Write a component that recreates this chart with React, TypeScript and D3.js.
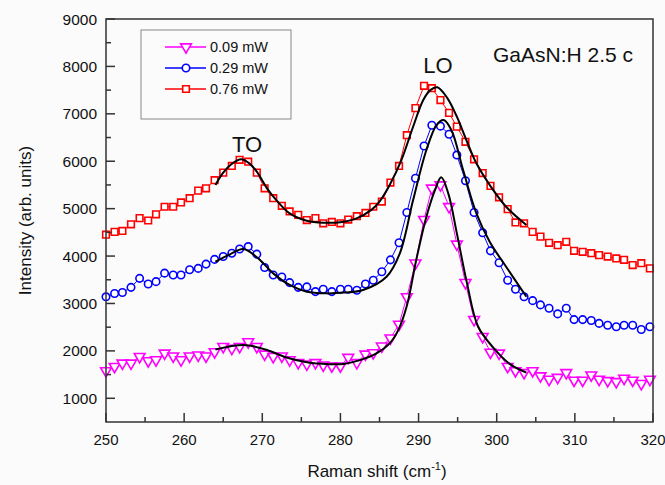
import React from 'react';
import * as d3 from 'd3';

// Raman shift positions (cm-1), shared by the three spectra
const shifts = [
  250.0, 251.1, 252.1, 253.2, 254.3, 255.4, 256.4, 257.5, 258.6, 259.6,
  260.7, 261.8, 262.8, 263.9, 265.0, 266.1, 267.1, 268.2, 269.3, 270.3,
  271.4, 272.5, 273.5, 274.6, 275.7, 276.8, 277.8, 278.9, 280.0, 281.0,
  282.1, 283.2, 284.2, 285.3, 286.4, 287.5, 288.5, 289.6, 290.7, 291.7,
  292.8, 293.9, 294.9, 296.0, 297.1, 298.2, 299.2, 300.3, 301.4, 302.4,
  303.5, 304.6, 305.6, 306.7, 307.8, 308.9, 309.9, 311.0, 312.1, 313.1,
  314.2, 315.3, 316.3, 317.4, 318.5, 319.6,
];

const power009 = [
  1580, 1670, 1740, 1740, 1880, 1790, 1810, 1950, 1890, 1810,
  1890, 1910, 1890, 1980, 2090, 2050, 2090, 2190, 2090, 1930,
  1880, 1890, 1810, 1750, 1720, 1750, 1700, 1680, 1680, 1860,
  1750, 1930, 1960, 2100, 2270, 2560, 3140, 3850, 4770, 5430,
  5500, 5040, 4250, 3440, 2660, 2300, 1970, 1950, 1670, 1580,
  1540, 1580, 1470, 1400, 1440, 1540, 1380, 1380, 1490, 1400,
  1370, 1350, 1420, 1380, 1310, 1400,
];

const power029 = [
  3140, 3210, 3230, 3340, 3530, 3410, 3460, 3640, 3600, 3600,
  3710, 3740, 3830, 3930, 3990, 4060, 4150, 4200, 4040, 3760,
  3600, 3560, 3440, 3340, 3350, 3250, 3300, 3250, 3300, 3300,
  3280, 3410, 3490, 3670, 3920, 4280, 4920, 5640, 6320, 6760,
  6740, 6570, 6130, 5590, 4920, 4490, 4110, 3860, 3490, 3300,
  3140, 3060, 2970, 2900, 2780, 2900, 2660, 2660, 2640, 2580,
  2540, 2510, 2540, 2540, 2450, 2510,
];

const power076 = [
  4450, 4510, 4530, 4670, 4800, 4750, 4880, 5040, 5040, 5130,
  5220, 5380, 5430, 5600, 5760, 5900, 6030, 5990, 5760, 5430,
  5220, 5060, 4940, 4870, 4760, 4800, 4690, 4720, 4690, 4770,
  4840, 4910, 5040, 5150, 5550, 5900, 6550, 7120, 7590, 7540,
  7290, 7020, 6730, 6410, 6040, 5750, 5480, 5240, 4990, 4710,
  4690, 4510, 4410, 4280, 4230, 4300, 4110, 4090, 4060, 4020,
  3990, 3950, 3920, 3810, 3850, 3740,
];

// fitted curves
const fit009: [number, number][] = [
  [264, 2030], [266, 2100], [268, 2120], [270.6, 2020], [273.1, 1860],
  [275.7, 1760], [278.5, 1720], [280.4, 1725], [282.5, 1806], [284.6, 1947],
  [286.3, 2158], [287.4, 2438], [288.5, 2950], [289.7, 3916], [291, 4830],
  [292.1, 5390], [292.9, 5660], [293.8, 5323], [294.9, 4478], [296.2, 3424],
  [297.6, 2520], [299.5, 2080], [301.7, 1720], [303.8, 1540],
];
const fit029: [number, number][] = [
  [264, 3880], [265.8, 4030], [267.6, 4148], [269.7, 3916], [271.4, 3635],
  [273.5, 3390], [275.7, 3247], [278.2, 3213], [280.5, 3230], [282.9, 3283],
  [285.9, 3563], [287.6, 4056], [289.3, 5180], [291, 6236], [292.3, 6764],
  [293.2, 6870], [294.2, 6658], [295.7, 5814], [297.4, 4900], [299.1, 4302],
  [301.2, 3775], [303.8, 3141],
];
const fit076: [number, number][] = [
  [264, 5500], [265, 5760], [266, 5930], [267.3, 6040], [268.3, 5960],
  [269.3, 5780], [270.6, 5428], [271.8, 5180], [273.5, 4900], [275.7, 4745],
  [277.8, 4703], [280, 4715], [282, 4790], [284, 4980], [285, 5150],
  [286.3, 5500], [287.8, 6025], [289.3, 6728], [290.6, 7291], [291.5, 7500],
  [292.4, 7560], [293.7, 7327], [294.9, 6940], [296.2, 6411], [297.4, 5956],
  [299.1, 5500], [301.2, 5040], [303.8, 4654],
];

const xTicks = [250, 260, 270, 280, 290, 300, 310, 320];
const yTicks = [1000, 2000, 3000, 4000, 5000, 6000, 7000, 8000, 9000];

const W = 665;
const H = 485;
const margin = { left: 106, top: 19, right: 12, bottom: 63 };
const font = 'Arial, "Liberation Sans", sans-serif';

const x = d3.scaleLinear().domain([250, 320]).range([margin.left, W - margin.right]);
const y = d3.scaleLinear().domain([500, 9000]).range([H - margin.bottom, margin.top]);

const series = [
  { name: '0.09 mW', values: power009, color: '#ff00ff', symbol: d3.symbolTriangle, size: 50, rotate: 180, fit: fit009 },
  { name: '0.29 mW', values: power029, color: '#0000ff', symbol: d3.symbolCircle, size: 44, rotate: 0, fit: fit029 },
  { name: '0.76 mW', values: power076, color: '#ff0000', symbol: d3.symbolSquare, size: 44, rotate: 0, fit: fit076 },
];

const dataLine = d3.line<number>()
  .x((d, i) => x(shifts[i]))
  .y(d => y(d));

const fitLine = d3.line<[number, number]>()
  .x(d => x(d[0]))
  .y(d => y(d[1]))
  .curve(d3.curveCatmullRom.alpha(0.5));

export default function App() {
  const minorX = d3.range(255, 320, 10);
  const minorY = d3.range(1500, 9000, 1000);
  const x0 = margin.left;
  const y0 = H - margin.bottom;

  return (
    <svg width={W} height={H} style={{ position: 'absolute', left: 0, top: 0, background: '#fbfbfb' }}>
      <g fontFamily={font} fill="#111">
        {xTicks.map(t => (
          <text key={t} x={x(t)} y={y0 + 23} fontSize={15} textAnchor="middle">{t}</text>
        ))}
        {yTicks.map(t => (
          <text key={t} x={x0 - 9} y={y(t) + 5.5} fontSize={15.5} textAnchor="end">{t}</text>
        ))}
        <text x={377} y={477} fontSize={17} textAnchor="middle">
          Raman shift (cm<tspan fontSize={11} dy={-7}>-1</tspan><tspan dy={7}>)</tspan>
        </text>
        <text transform={`translate(31,${(margin.top + y0) / 2}) rotate(-90)`} fontSize={17} textAnchor="middle">
          Intensity (arb. units)
        </text>
      </g>

      {series.map(s => (
        <g key={s.name}>
          <path d={dataLine(s.values) || ''} fill="none" stroke={s.color} strokeWidth={1} />
          {s.values.map((v, i) => (
            <path key={i}
              d={d3.symbol().type(s.symbol).size(s.size)() || ''}
              transform={`translate(${x(shifts[i])},${y(v)}) rotate(${s.rotate})`}
              fill="#fff" stroke={s.color} strokeWidth={1.6} />
          ))}
        </g>
      ))}

      {series.map(s => (
        <path key={'fit' + s.name} d={fitLine(s.fit) || ''} fill="none" stroke="#000" strokeWidth={2} />
      ))}

      {/* frame and ticks */}
      <rect x={x0} y={margin.top} width={W - margin.right - x0} height={y0 - margin.top}
        fill="none" stroke="#333" strokeWidth={1.5} />
      {xTicks.map(t => (
        <line key={'xt' + t} x1={x(t)} x2={x(t)} y1={y0} y2={y0 - 9} stroke="#333" strokeWidth={1.5} />
      ))}
      {minorX.map(t => (
        <line key={'xm' + t} x1={x(t)} x2={x(t)} y1={y0} y2={y0 - 5} stroke="#333" strokeWidth={1.5} />
      ))}
      {yTicks.map(t => (
        <line key={'yt' + t} x1={x0} x2={x0 + 9} y1={y(t)} y2={y(t)} stroke="#333" strokeWidth={1.5} />
      ))}
      {minorY.map(t => (
        <line key={'ym' + t} x1={x0} x2={x0 + 5} y1={y(t)} y2={y(t)} stroke="#333" strokeWidth={1.5} />
      ))}

      {/* legend */}
      <rect x={141} y={30} width={150} height={89} fill="#fbfbfb" stroke="#888" strokeWidth={1} />
      {series.map((s, i) => {
        const ly = 47 + i * 21;
        return (
          <g key={'lg' + s.name}>
            <line x1={165} x2={206} y1={ly} y2={ly} stroke={s.color} strokeWidth={1.5} />
            <path d={d3.symbol().type(s.symbol).size(s.size)() || ''}
              transform={`translate(186,${ly}) rotate(${s.rotate})`}
              fill="#fff" stroke={s.color} strokeWidth={1.6} />
            <text x={210} y={ly + 5} fontFamily={font} fontSize={14.5} fill="#111">{s.name}</text>
          </g>
        );
      })}

      <g fontFamily={font} fill="#111">
        <text x={493} y={62} fontSize={21}>GaAsN:H 2.5 c</text>
        <text x={438} y={73} fontSize={22} textAnchor="middle">LO</text>
        <text x={247} y={152} fontSize={22} textAnchor="middle">TO</text>
      </g>
    </svg>
  );
}
